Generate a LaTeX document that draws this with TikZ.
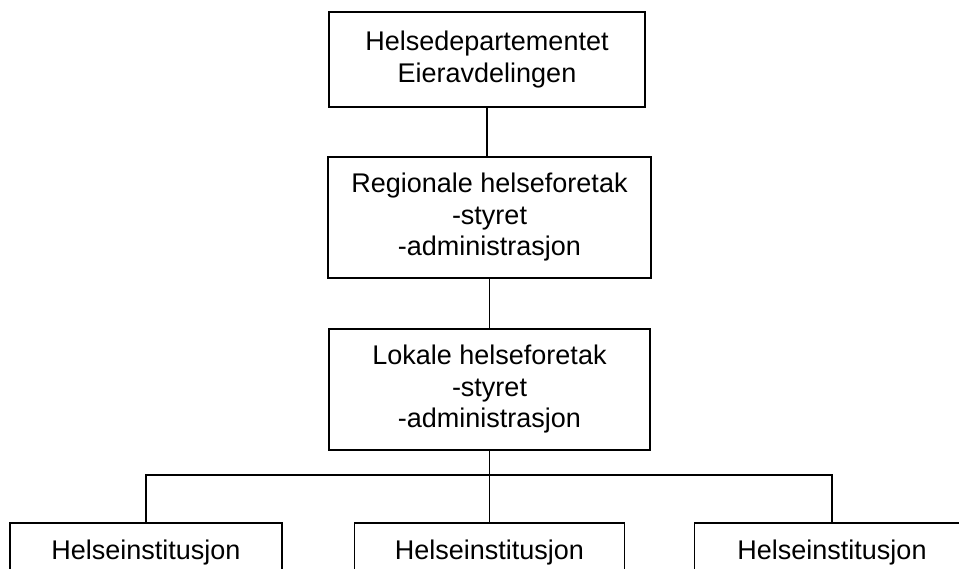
\documentclass[tikz,border=0pt]{standalone}
\usepackage{fontspec}
\setmainfont{Liberation Sans}
\usetikzlibrary{positioning}

\begin{document}
\begin{tikzpicture}[x=1pt,y=-1pt,
  orgbox/.style={draw,line width=1.9pt,align=center,inner sep=0pt,
    font=\fontsize{27}{31.5}\selectfont},
  link/.style={line width=1.9pt}]
\useasboundingbox (0,0) rectangle (959,569);
\clip (0,0) rectangle (959,569);
% Levels of ownership
\node[orgbox,minimum width=316pt,minimum height=95pt] (dep) at (487,59.5)
  {Helsedepartementet\\Eieravdelingen};
\node[orgbox,minimum width=323pt,minimum height=121pt] (reg) at (489.5,217.5)
  {Regionale helseforetak\\-styret\\-administrasjon};
\node[orgbox,minimum width=321pt,minimum height=121pt] (lok) at (489.5,389.5)
  {Lokale helseforetak\\-styret\\-administrasjon};
% Institutions, cut off at the bottom
\node[orgbox,minimum width=272pt,text height=37pt,text depth=55pt,anchor=north] (inst1) at (146,522)
  {Helseinstitusjon};
\node[orgbox,minimum width=270pt,text height=37pt,text depth=55pt,anchor=north] (inst2) at (489.5,522)
  {Helseinstitusjon};
\node[orgbox,minimum width=275pt,text height=37pt,text depth=55pt,anchor=north] (inst3) at (832,522)
  {Helseinstitusjon};
% Connectors
\draw[link] (dep.south) -- (dep.south |- reg.north);
\draw[link] (reg.south) -- (lok.north);
\coordinate (fork) at (489.5,475);
\draw[link] (lok.south) -- (fork);
\draw[link] (inst1.north) |- (fork) -| (inst3.north);
\draw[link] (fork) -- (inst2.north);
\end{tikzpicture}
\end{document}
